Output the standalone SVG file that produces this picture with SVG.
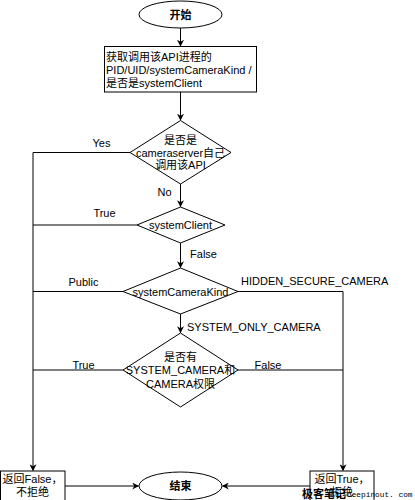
<svg xmlns="http://www.w3.org/2000/svg" width="415" height="500" viewBox="0 0 415 500">
<defs>
<marker id="arr" viewBox="0 0 10 10" refX="9" refY="5" markerWidth="7" markerHeight="7" orient="auto" markerUnits="userSpaceOnUse">
<path d="M0,0 L10,5 L0,10 L3,5 Z" fill="#000"/>
</marker>
</defs>
<style>
.s{fill:#fff;stroke:#000;stroke-width:1}
.t{font-family:"Liberation Sans","Noto Sans CJK SC",sans-serif;font-size:11px;fill:#000}
.c{text-anchor:middle}
.b{font-weight:bold}
.l{fill:none;stroke:#000;stroke-width:1}
</style>
<rect width="415" height="500" fill="#fff"/>
<g id="connectors">
<path class="l" d="M180.5,28 V46" marker-end="url(#arr)"/>
<path class="l" d="M180.5,92 V120" marker-end="url(#arr)"/>
<path class="l" d="M180.5,184 V206.5" marker-end="url(#arr)"/>
<path class="l" d="M180.5,243 V267.5" marker-end="url(#arr)"/>
<path class="l" d="M180.5,314 V332.5" marker-end="url(#arr)"/>
<path class="l" d="M130,152.5 H33 V470.5" marker-end="url(#arr)"/>
<path class="l" d="M137,225 H33"/>
<path class="l" d="M123,291.5 H33"/>
<path class="l" d="M123,370 H33"/>
<path class="l" d="M238,291.5 H343 V470.5" marker-end="url(#arr)"/>
<path class="l" d="M238,370 H343"/>
<path class="l" d="M65,486 H138.5" marker-end="url(#arr)"/>
<path class="l" d="M310,486 H222.5" marker-end="url(#arr)"/>
<text class="t c" x="101.5" y="147">Yes</text>
<text class="t c" x="164.5" y="196">No</text>
<text class="t c" x="104.5" y="217">True</text>
<text class="t c" x="203.5" y="258">False</text>
<text class="t c" x="83.5" y="286">Public</text>
<text class="t" x="241" y="285">HIDDEN_SECURE_CAMERA</text>
<text class="t" x="187" y="331">SYSTEM_ONLY_CAMERA</text>
<text class="t c" x="83.5" y="369">True</text>
<text class="t c" x="268" y="369">False</text>
</g>
<g id="start">
<ellipse class="s" cx="180.5" cy="14.5" rx="41.5" ry="13.5"/>
<text class="t c b" x="180.5" y="18.5">开始</text>
</g>
<g id="fetch">
<rect class="s" x="104.5" y="46.5" width="152" height="45.5"/>
<text class="t" x="106" y="61">获取调用该API进程的</text>
<text class="t" x="106" y="74">PID/UID/systemCameraKind /</text>
<text class="t" x="106" y="87">是否是systemClient</text>
</g>
<g id="isCameraserver">
<path class="s" d="M180.5,120.5 L231,152.5 L180.5,184 L130,152.5 Z"/>
<text class="t c" x="180.5" y="144">是否是</text>
<text class="t c" x="180.5" y="156.5">cameraserver自己</text>
<text class="t c" x="180.5" y="169">调用该API</text>
</g>
<g id="systemClient">
<path class="s" d="M180.5,207 L225,225 L180.5,243 L137,225 Z"/>
<text class="t c" x="180.5" y="229">systemClient</text>
</g>
<g id="systemCameraKind">
<path class="s" d="M180.5,268 L238,291.5 L180.5,314 L123,291.5 Z"/>
<text class="t c" x="180.5" y="295.5">systemCameraKind</text>
</g>
<g id="hasPermission">
<path class="s" d="M180.5,333 L238,370 L180.5,407 L123,370 Z"/>
<text class="t c" x="180.5" y="361">是否有</text>
<text class="t c" x="180.5" y="374">SYSTEM_CAMERA和</text>
<text class="t c" x="180.5" y="388">CAMERA权限</text>
</g>
<g id="returnFalse">
<rect class="s" x="0.5" y="471" width="64.5" height="35"/>
<text class="t c" x="32.5" y="483">返回False，</text>
<text class="t c" x="32.5" y="495.5">不拒绝</text>
</g>
<g id="end">
<ellipse class="s" cx="180.5" cy="486" rx="41.5" ry="14"/>
<text class="t c b" x="180.5" y="490">结束</text>
</g>
<g id="returnTrue">
<rect class="s" x="310" y="471" width="64" height="35"/>
<text class="t c" x="342" y="483">返回True，</text>
<text class="t c" x="342" y="495.5">拒绝</text>
</g>
<g id="watermark">
<text x="302" y="498" font-family="'Noto Sans CJK SC',sans-serif" font-size="11" font-weight="bold" fill="#000">极客笔记</text>
<text x="347" y="497" font-family="'Liberation Mono',monospace" font-size="7.8" fill="#000">deepinout. com</text>
</g>
</svg>
